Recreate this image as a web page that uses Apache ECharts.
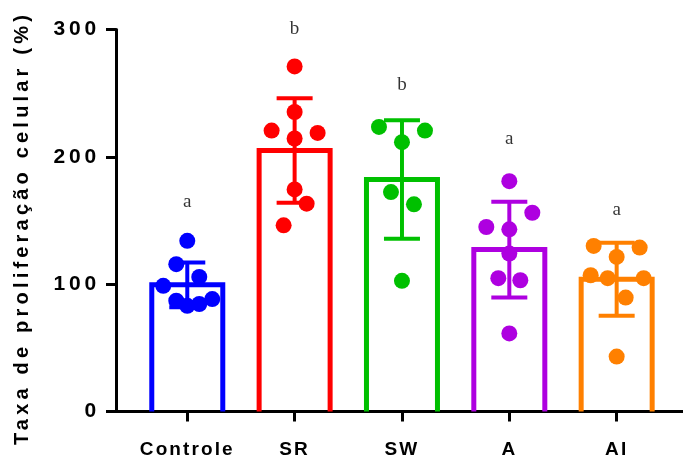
<!DOCTYPE html>
<html><head><meta charset="utf-8">
<script src="https://cdn.jsdelivr.net/npm/echarts@6/dist/echarts.min.js"></script>
<style>html,body{margin:0;padding:0;background:#fff}#c{width:683px;height:457px}</style>
</head><body><div id="c"></div>
<script>
// ---- data ----
const categories = ['Controle', 'SR', 'SW', 'A', 'AI'];
const means = [99.5, 205, 182.2, 127.2, 103.9];
const sds = [17.6, 41, 46.5, 37.6, 28.7];
const ptsControle = [134, 115.7, 105.7, 98.7, 87, 83, 84.4, 88.3];
const ptsSR = [271, 235.2, 220.6, 218.8, 214.4, 174.4, 163.2, 146.2];
const ptsSW = [223.5, 220.6, 211.5, 172.3, 162.7, 102.6];
const ptsA = [180.9, 156.1, 144.9, 143.1, 124, 104.7, 103.1, 61.3];
const ptsAI = [130, 128.7, 121.4, 107, 104.7, 104.7, 89.5, 43.1];
const letters = ['a', 'b', 'b', 'a', 'a'];
const letterY = [164.6, 300, 256.4, 213.8, 158.6];
const yTicks = [0, 100, 200, 300];

// ---- styling (horizontal jitter of the dots, in px) ----
const jitterControle = [0, -11, 12, -24, -11, 0, 12, 25];
const jitterSR = [0, 0, -23, 23, 0, 0, 12, -11];
const jitterSW = [-23, 23, 0, -11, 12, 0];
const jitterA = [0, 23, -23, 0, 0, -11, 11, 0];
const jitterAI = [-23, 23, 0, -26, -9, 27, 9, 0];
const colors = ['#0000FF', '#FF0000', '#00C000', '#AE00E0', '#FF8000'];
const BAR_W = 71, CAP_HALF = 18;

// letter spacing for canvas text (GraphPad-like spaced labels)
(function () {
  const P = CanvasRenderingContext2D.prototype;
  const orig = P.fillText;
  P.fillText = function (t, x, y, mw) {
    const f = this.font || '';
    let ls = '0px';
    if (/Serif/i.test(f)) ls = '0px';
    else if (/\b21px/.test(f)) ls = '3.8px';
    else if (/\b19px/.test(f)) ls = '2.1px';
    else if (/\b20px/.test(f)) ls = '4.2px';
    if ('letterSpacing' in this) this.letterSpacing = ls;
    return mw === undefined ? orig.call(this, t, x, y) : orig.call(this, t, x, y, mw);
  };
})();

const groups = [ptsControle, ptsSR, ptsSW, ptsA, ptsAI];
const jitters = [jitterControle, jitterSR, jitterSW, jitterA, jitterAI];
const dotData = [];
groups.forEach((g, i) => g.forEach((v, k) => dotData.push({
  value: [i, v], symbolOffset: [jitters[i][k], 0], itemStyle: { color: colors[i], opacity: 1 }
})));

const chart = echarts.init(document.getElementById('c'), null, { renderer: 'canvas' });
chart.setOption({
  animation: false,
  backgroundColor: '#fff',
  textStyle: { fontFamily: 'Liberation Sans' },
  grid: { left: 116, right: 0, top: 29.5, bottom: 45.5, containLabel: false, outerBoundsMode: 'none' },
  xAxis: {
    type: 'value', min: -0.664, max: 4.618,
    splitLine: { show: false },
    axisLine: { lineStyle: { color: '#000', width: 3 } },
    axisTick: { customValues: [0, 1, 2, 3, 4], length: 10, lineStyle: { color: '#000', width: 3 } },
    axisLabel: {
      customValues: [0, 1, 2, 3, 4], formatter: v => categories[Math.round(v)],
      color: '#000', fontWeight: 'bold', fontSize: 19, margin: 29
    }
  },
  yAxis: {
    type: 'value', min: 0, max: 300, interval: 100,
    splitLine: { show: false },
    axisLine: { show: true, onZero: false, lineStyle: { color: '#000', width: 3 } },
    axisTick: { show: true, length: 10, lineStyle: { color: '#000', width: 3 } },
    axisLabel: { color: '#000', fontWeight: 'bold', fontSize: 21, margin: 16,
      customValues: yTicks, formatter: v => String(v) },
    name: 'Taxa de proliferação celular (%)',
    nameLocation: 'middle', nameGap: 84, nameRotate: 90,
    nameTextStyle: { color: '#000', fontWeight: 'bold', fontSize: 20, padding: [0, 15, 0, 0] }
  },
  series: [
    {
      type: 'custom', z: 2,
      data: means.map((m, i) => [i, m]),
      renderItem(params, api) {
        const i = api.value(0);
        const t = api.coord([i, api.value(1)]);
        const b = api.coord([i, 0]);
        const h = BAR_W / 2;
        return {
          type: 'polyline',
          shape: { points: [[t[0] - h, b[1]], [t[0] - h, t[1]], [t[0] + h, t[1]], [t[0] + h, b[1]]] },
          style: { fill: null, stroke: colors[i], lineWidth: 5, lineJoin: 'miter' }
        };
      }
    },
    {
      type: 'custom', z: 3,
      data: means.map((m, i) => [i, m - sds[i], m + sds[i]]),
      renderItem(params, api) {
        const i = api.value(0);
        const lo = api.coord([i, api.value(1)]);
        const hi = api.coord([i, api.value(2)]);
        const st = { stroke: colors[i], lineWidth: 4 };
        return {
          type: 'group', children: [
            { type: 'line', shape: { x1: hi[0], y1: hi[1], x2: lo[0], y2: lo[1] }, style: st },
            { type: 'line', shape: { x1: hi[0] - CAP_HALF, y1: hi[1], x2: hi[0] + CAP_HALF, y2: hi[1] }, style: st },
            { type: 'line', shape: { x1: lo[0] - CAP_HALF, y1: lo[1], x2: lo[0] + CAP_HALF, y2: lo[1] }, style: st }
          ]
        };
      }
    },
    {
      type: 'scatter', z: 4, symbol: 'circle', symbolSize: 16,
      itemStyle: { opacity: 1 },
      data: dotData
    },
    {
      type: 'scatter', z: 5, symbolSize: 1,
      itemStyle: { color: 'transparent' },
      data: letterY.map((y, i) => [i, y]),
      label: {
        show: true, position: 'inside', formatter: p => letters[p.dataIndex],
        color: '#000', fontFamily: 'Liberation Serif', fontSize: 19
      }
    }
  ]
});
</script>
</body></html>
